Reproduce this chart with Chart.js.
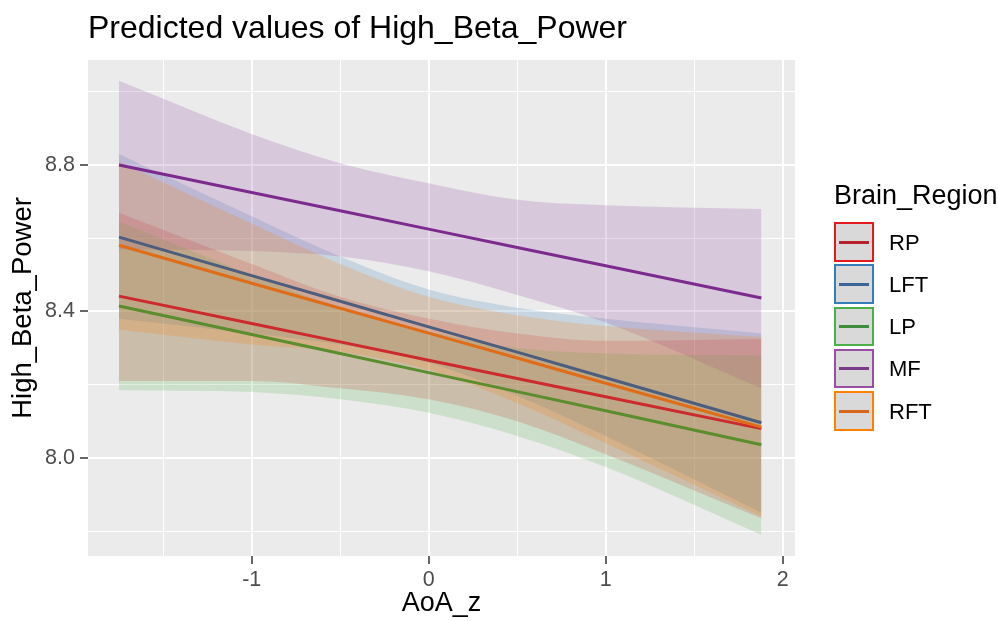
<!DOCTYPE html>
<html>
<head>
<meta charset="utf-8">
<script src="https://cdn.jsdelivr.net/npm/chart.js@4.4.1/dist/chart.umd.min.js"></script>
<style>
  html, body { margin: 0; padding: 0; background: #fff; }
  #wrap { position: relative; width: 998px; height: 621px; font-family: 'Liberation Sans', Arial, sans-serif; }
  #title { position: absolute; left: 88px; top: 11px; font-size: 32px; line-height: 1; color: #000; white-space: nowrap; }
  #legend { position: absolute; left: 834px; top: 182px; color: #000; }
  #legend .ltitle { font-size: 27px; line-height: 1; margin-bottom: 13px; white-space: nowrap; }
  #legend .row { position: relative; height: 42.3px; }
  #legend .key { position: absolute; left: 0; top: 0; width: 36px; height: 35.5px; background: #d9d9d9; border: 2.5px solid; }
  #legend .key i { position: absolute; left: 3px; right: 3px; top: 16.5px; height: 3px; }
  #legend .lab { position: absolute; left: 55px; top: 9.5px; font-size: 22px; line-height: 1; }
  canvas { position: absolute; left: 0; top: 0; }
</style>
</head>
<body>
<div id="wrap">
  <canvas id="chart" width="998" height="621"></canvas>
  <div id="title">Predicted values of High_Beta_Power</div>
  <div id="legend"></div>
</div>
<script>
const FONT = "'Liberation Sans', Arial, sans-serif";

// x positions (AoA_z) where values were read
const xValues = [-1.75, -1, -0.5, 0, 0.5, 1, 1.88];
const regions = ['RP', 'LFT', 'LP', 'MF', 'RFT'];

// predicted values and confidence bands per region
const fitRP = [8.442, 8.367, 8.317, 8.267, 8.217, 8.167, 8.080];
const upperRP = [8.67, 8.53, 8.44, 8.38, 8.34, 8.32, 8.325];
const lowerRP = [8.21, 8.21, 8.19, 8.16, 8.10, 8.01, 7.835];

const fitLFT = [8.603, 8.498, 8.428, 8.358, 8.289, 8.219, 8.096];
const upperLFT = [8.83, 8.66, 8.55, 8.46, 8.41, 8.38, 8.34];
const lowerLFT = [8.38, 8.34, 8.31, 8.26, 8.17, 8.06, 7.85];

const fitLP = [8.415, 8.337, 8.285, 8.233, 8.181, 8.129, 8.036];
const upperLP = [8.645, 8.50, 8.41, 8.345, 8.30, 8.285, 8.28];
const lowerLP = [8.185, 8.18, 8.16, 8.123, 8.06, 7.975, 7.79];

const fitMF = [8.80, 8.725, 8.675, 8.625, 8.575, 8.525, 8.437];
const upperMF = [9.03, 8.885, 8.805, 8.75, 8.705, 8.69, 8.68];
const lowerMF = [8.57, 8.565, 8.55, 8.51, 8.445, 8.37, 8.19];

const fitRFT = [8.581, 8.477, 8.409, 8.341, 8.273, 8.204, 8.084];
const upperRFT = [8.81, 8.64, 8.53, 8.44, 8.39, 8.36, 8.33];
const lowerRFT = [8.35, 8.31, 8.29, 8.24, 8.15, 8.04, 7.84];

const fits = [fitRP, fitLFT, fitLP, fitMF, fitRFT];
const uppers = [upperRP, upperLFT, upperLP, upperMF, upperRFT];
const lowers = [lowerRP, lowerLFT, lowerLP, lowerMF, lowerRFT];

const setColors = ['#e41a1c', '#377eb8', '#4daf4a', '#984ea3', '#ff7f00'];
const bandColors = ['rgba(228,26,28,0.2)', 'rgba(55,126,184,0.2)', 'rgba(77,175,74,0.2)', 'rgba(152,78,163,0.22)', 'rgba(255,127,0,0.2)'];
const lineColors = ['#cc2a2d', '#4c5d7e', '#5a8d2c', '#7d2a8f', '#e06c17'];
const keyLineColors = ['#b8202c', '#3a6596', '#3e8c3c', '#7a3a88', '#d5661a'];

const pts = (arr) => arr.map((y, i) => ({ x: xValues[i], y }));

const datasets = [];
regions.forEach((name, i) => {
  const lowIdx = datasets.length;
  datasets.push({ label: name + ' lower', data: pts(lowers[i]), borderWidth: 0, pointRadius: 0, fill: false, cubicInterpolationMode: 'monotone', order: 10 - i });
  datasets.push({ label: name + ' upper', data: pts(uppers[i]), borderWidth: 0, pointRadius: 0, fill: lowIdx, backgroundColor: bandColors[i], cubicInterpolationMode: 'monotone', order: 10 - i });
});
regions.forEach((name, i) => {
  datasets.push({ label: name, data: pts(fits[i]), borderColor: lineColors[i], borderWidth: 3, pointRadius: 0, fill: false, tension: 0, order: -1 - i });
});

const isMajorX = (v) => Math.abs(v - Math.round(v)) < 1e-6;
const isMajorY = (v) => Math.round(v * 10) % 4 === 0;

const panelBg = {
  id: 'panelBg',
  beforeDraw(chart) {
    const { ctx, chartArea: a } = chart;
    ctx.save();
    ctx.fillStyle = '#ebebeb';
    ctx.fillRect(a.left, a.top, a.right - a.left, a.bottom - a.top);
    ctx.restore();
  }
};

new Chart(document.getElementById('chart'), {
  type: 'line',
  data: { datasets },
  plugins: [panelBg],
  options: {
    responsive: false,
    animation: false,
    layout: { padding: { top: 60, right: 203, bottom: 0, left: 0 } },
    plugins: { legend: { display: false }, tooltip: { enabled: false } },
    scales: {
      x: {
        type: 'linear',
        min: -1.925,
        max: 2.07,
        border: { display: false },
        grid: {
          color: '#ffffff',
          lineWidth: (c) => (isMajorX(c.tick.value) ? 2 : 1),
          tickColor: (c) => (isMajorX(c.tick.value) ? '#333333' : 'rgba(0,0,0,0)'),
          tickLength: 8,
          tickWidth: 1.5
        },
        ticks: {
          stepSize: 0.5,
          includeBounds: false,
          autoSkip: false,
          maxRotation: 0,
          padding: 3,
          color: '#4d4d4d',
          font: { family: FONT, size: 21.5 },
          callback: (v) => (isMajorX(v) ? String(Math.round(v)) : '')
        },
        title: { display: true, text: 'AoA_z', color: '#000', font: { family: FONT, size: 27 }, padding: { top: 0, bottom: 1 } },
        afterFit: (s) => { s.height = 65; }
      },
      y: {
        type: 'linear',
        min: 7.732,
        max: 9.087,
        border: { display: false },
        grid: {
          color: '#ffffff',
          lineWidth: (c) => (isMajorY(c.tick.value) ? 2 : 1),
          tickColor: (c) => (isMajorY(c.tick.value) ? '#333333' : 'rgba(0,0,0,0)'),
          tickLength: 8,
          tickWidth: 1.5
        },
        ticks: {
          stepSize: 0.2,
          includeBounds: false,
          autoSkip: false,
          padding: 5,
          color: '#4d4d4d',
          font: { family: FONT, size: 21.5 },
          callback: (v) => (isMajorY(v) ? v.toFixed(1) : '')
        },
        title: { display: true, text: 'High_Beta_Power', color: '#000', font: { family: FONT, size: 27.5 }, padding: { top: 7, bottom: 0 } },
        afterFit: (s) => { s.width = 88; }
      }
    }
  }
});

// legend
const legend = document.getElementById('legend');
legend.innerHTML = '<div class="ltitle">Brain_Region</div>' + regions.map((name, i) =>
  `<div class="row"><div class="key" style="border-color:${setColors[i]}"><i style="background:${keyLineColors[i]}"></i></div><div class="lab">${name}</div></div>`
).join('');
</script>
</body>
</html>
